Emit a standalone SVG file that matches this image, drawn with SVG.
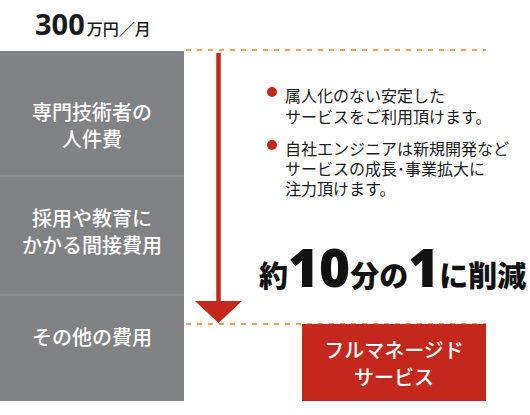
<svg xmlns="http://www.w3.org/2000/svg" width="530" height="415" viewBox="0 0 530 415">
<style>
.jp{font-family:"Noto Sans CJK JP","Noto Sans",sans-serif}
.col{fill:#fff;font-size:20px;font-weight:500;text-anchor:middle}
.blt{fill:#1a1a1a;font-size:16px}
.dash{stroke:#f5a04a;stroke-width:2;stroke-dasharray:5 6;fill:none}
</style>
<rect width="530" height="415" fill="#fff"/>
<g id="title">
<text class="jp" x="35" y="35" fill="#1a1a1a"><tspan font-family="'Noto Sans',sans-serif" font-weight="bold" font-size="29">300</tspan><tspan font-size="16" font-weight="500" dx="2">万円／月</tspan></text>
</g>
<g id="cost-column">
<rect x="0" y="51" width="184" height="350" fill="#818284"/>
<line x1="0" y1="176" x2="184" y2="176" stroke="#9a9b9d" stroke-width="1"/>
<line x1="0" y1="295" x2="184" y2="295" stroke="#9a9b9d" stroke-width="1"/>
</g>
<g id="node-labor">
<text class="jp col" x="92" y="120">専門技術者の</text>
<text class="jp col" x="92" y="147">人件費</text>
</g>
<g id="node-indirect">
<text class="jp col" x="92" y="226">採用や教育に</text>
<text class="jp col" x="92" y="253">かかる間接費用</text>
</g>
<g id="node-other">
<text class="jp col" x="92" y="345">その他の費用</text>
</g>
<g id="connectors">
<line class="dash" x1="186" y1="50" x2="486" y2="50"/>
<line class="dash" x1="186" y1="324" x2="486" y2="324"/>
<line x1="218.5" y1="53" x2="218.5" y2="302" stroke="#c4281c" stroke-width="4.5"/>
<polygon points="195,301 242,301 218.5,323" fill="#c4281c"/>
</g>
<g id="benefits">
<circle cx="272" cy="92" r="5" fill="#c4281c"/>
<text class="jp blt" x="285" y="102">属人化のない安定した</text>
<text class="jp blt" x="285" y="123">サービスをご利用頂けます。</text>
<circle cx="272" cy="145" r="5" fill="#c4281c"/>
<text class="jp blt" x="285" y="155">自社エンジニアは新規開発など</text>
<text class="jp blt" x="285" y="175">サービスの成長･事業拡大に</text>
<text class="jp blt" x="285" y="195">注力頂けます。</text>
</g>
<g id="reduction">
<text class="jp" x="259" y="287" fill="#111" font-weight="900"><tspan font-size="29">約</tspan><tspan font-family="'Noto Sans',sans-serif" font-size="53" font-weight="900">10</tspan><tspan font-size="29">分の</tspan><tspan font-family="'Noto Sans',sans-serif" font-size="53" font-weight="900">1</tspan><tspan font-size="29">に削減</tspan></text>
</g>
<g id="node-service">
<rect x="302" y="324" width="184" height="77" fill="#c4281c"/>
<text class="jp col" x="394" y="358" font-weight="bold">フルマネージド</text>
<text class="jp col" x="394" y="385" font-weight="bold">サービス</text>
</g>
</svg>
